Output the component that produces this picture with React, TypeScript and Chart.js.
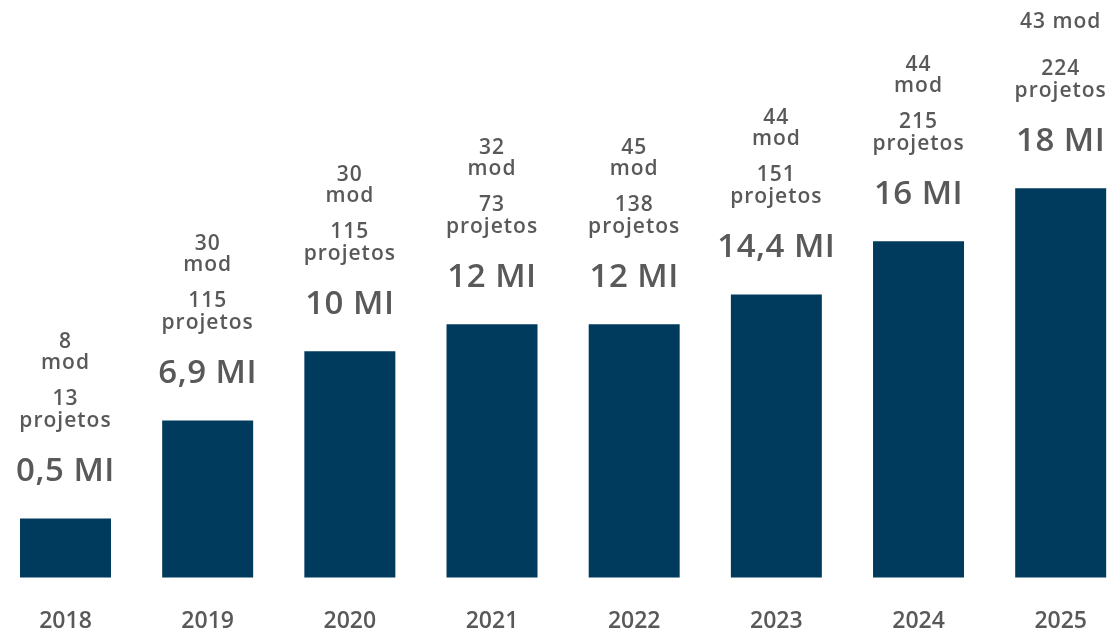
import React, { useEffect, useRef } from "react";
import { Chart, registerables } from "chart.js";

Chart.register(...registerables);

const years = ["2018", "2019", "2020", "2021", "2022", "2023", "2024", "2025"];
// bar heights as drawn in the picture (visual scale, top bar = 18)
const barValues = [2.73, 7.26, 10.46, 11.71, 11.71, 13.09, 15.55, 18];
const valueLabels = ["0,5 MI", "6,9 MI", "10 MI", "12 MI", "12 MI", "14,4 MI", "16 MI", "18 MI"];
const projects = [13, 115, 115, 73, 138, 151, 215, 224];
const modLabels: string[][] = [
  ["8", "mod"],
  ["30", "mod"],
  ["30", "mod"],
  ["32", "mod"],
  ["45", "mod"],
  ["44", "mod"],
  ["44", "mod"],
  ["43 mod"],
];

const BAR = "#003a5d";
const TEXT = "#595959";
const FONT = "'Open Sans', Lato, sans-serif";

const labelPlugin = {
  id: "barLabels",
  afterDatasetsDraw(chart: any) {
    const meta = chart.getDatasetMeta(0);
    const ctx = chart.ctx as CanvasRenderingContext2D;
    ctx.save();
    ctx.fillStyle = TEXT;
    ctx.textAlign = "center";
    ctx.textBaseline = "alphabetic";
    meta.data.forEach((bar: any, i: number) => {
      const x = bar.x;
      const top = bar.y;
      const miBase = top - 37;
      ctx.font = `600 33px ${FONT}`;
      (ctx as any).letterSpacing = "0.5px";
      ctx.fillText(valueLabels[i], x, miBase);
      ctx.font = `600 21px ${FONT}`;
      (ctx as any).letterSpacing = "1px";
      const projBase = miBase - 54;
      ctx.fillText("projetos", x, projBase);
      const numBase = projBase - 22;
      ctx.fillText(String(projects[i]), x, numBase);
      const lines = modLabels[i];
      if (lines.length === 1) {
        ctx.fillText(lines[0], x, numBase - 47);
      } else {
        const modBase = numBase - 36;
        ctx.fillText(lines[1], x, modBase);
        ctx.fillText(lines[0], x, modBase - 21);
      }
    });
    ctx.restore();
  },
};

export default function App() {
  const ref = useRef<HTMLCanvasElement | null>(null);
  useEffect(() => {
    if (!ref.current) return;
    const chart = new Chart(ref.current, {
      type: "bar",
      data: {
        labels: years,
        datasets: [
          {
            data: barValues,
            backgroundColor: BAR,
            borderWidth: 0,
            barPercentage: 0.64,
            categoryPercentage: 1,
            clip: false as any,
          },
        ],
      },
      options: {
        animation: false,
        responsive: false,
        maintainAspectRatio: false,
        layout: { padding: { left: 65.5, right: 40, top: 145, bottom: 0 } },
        plugins: { legend: { display: false }, tooltip: { enabled: false } },
        scales: {
          x: {
            offset: false,
            grid: { display: false, drawTicks: false },
            border: { display: false },
            ticks: {
              color: TEXT,
              padding: 30,
              font: { family: FONT, size: 23, weight: "600" as any },
              maxRotation: 0,
              autoSkip: false,
            },
          },
          y: {
            display: false,
            min: 0,
            max: 20,
          },
        },
      },
      plugins: [labelPlugin],
    });
    return () => chart.destroy();
  }, []);
  return (
    <div style={{ position: "absolute", left: 0, top: 0, width: 1110, height: 631, overflow: "hidden" }}>
      <canvas ref={ref} width={1117} height={665} style={{ display: "block", width: 1117, height: 665 }} />
    </div>
  );
}
